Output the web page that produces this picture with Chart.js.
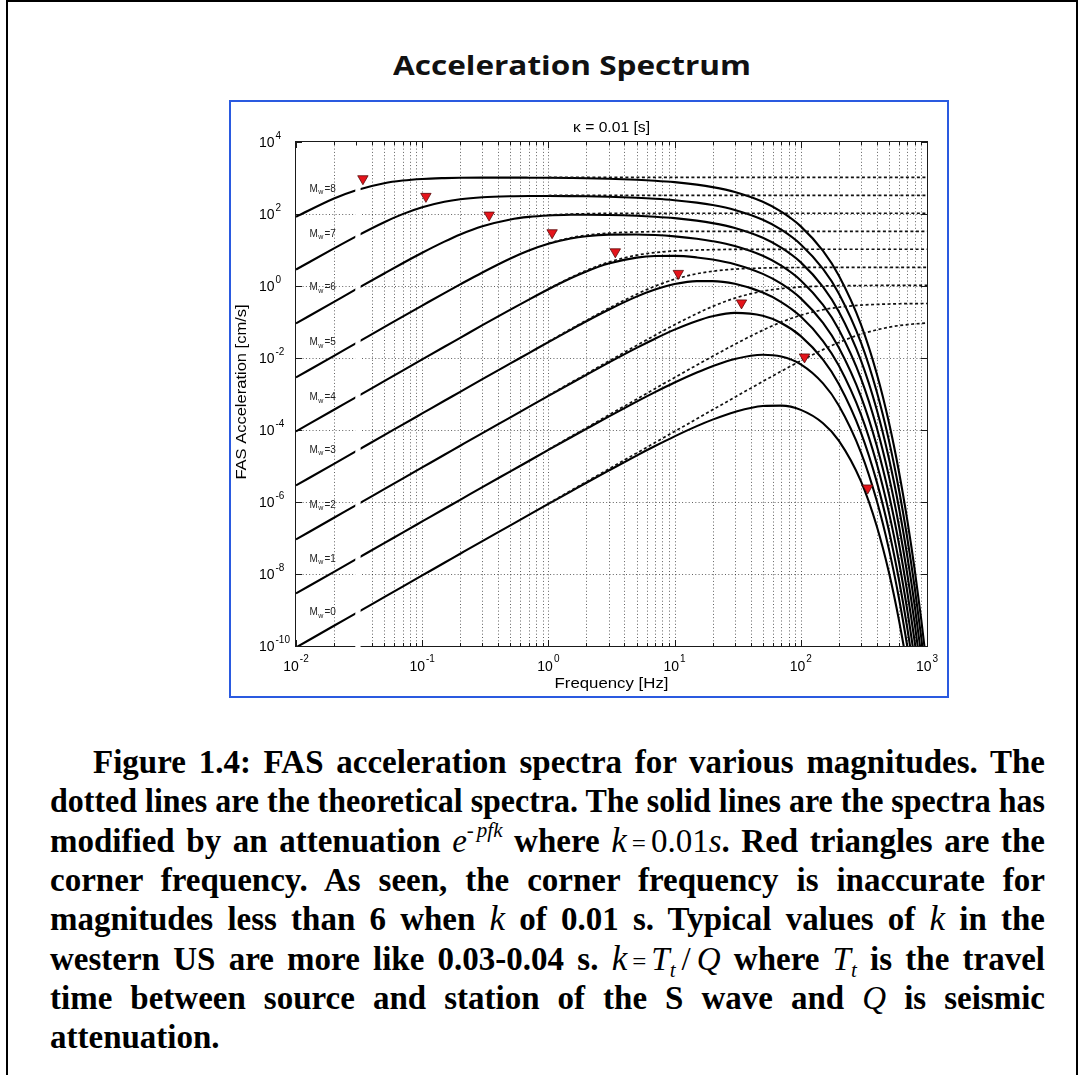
<!DOCTYPE html>
<html>
<head>
<meta charset="utf-8">
<title>Acceleration Spectrum</title>
<script src="https://cdn.jsdelivr.net/npm/chart.js@4.4.1/dist/chart.umd.min.js"></script>
<style>
  html, body { margin: 0; padding: 0; background: #fff; }
  body { width: 1080px; height: 1075px; position: relative; overflow: hidden; }
  #frame { position: absolute; left: 6px; top: 0; width: 1072px; height: 1200px;
           border: 2.5px solid #000; box-sizing: border-box; }
  #panel { position: absolute; left: 229px; top: 100px; width: 720px; height: 598px;
           border: 2px solid #2a5ae0; box-sizing: border-box; }
  #chart { position: absolute; left: 0; top: 0; }
  #title { position: absolute; display: inline-block; white-space: nowrap;
           font-family: "Open Sans", "DejaVu Sans", sans-serif; font-weight: 700;
           font-size: 27px; line-height: 34px; color: #111; }
  .cap { position: absolute; display: inline-block; white-space: nowrap;
         font-family: "Liberation Serif", "Times New Roman", serif; font-weight: 700;
         font-size: 33px; line-height: 40px; color: #000; }
  .mi { font-weight: 400; font-style: italic; }
  .mr { font-weight: 400; font-style: normal; }
  .kk { font-size: 35px; }
  .sup { font-size: 21px; vertical-align: 15px; }
  .sub { font-size: 21px; vertical-align: -7px; }
  .eq { font-size: 25px; margin: 0 5px; }
  .sl { margin: 0 6px; }
</style>
</head>
<body>
<div id="frame"></div>
<div id="panel"></div>
<div id="title">Acceleration Spectrum</div>
<canvas id="chart" width="1080" height="700"></canvas>

<div class="cap" data-left="93" data-base="773" data-mode="justify">Figure 1.4: FAS acceleration spectra for various magnitudes. The</div>
<div class="cap" data-left="50" data-base="812.3" data-mode="justify">dotted lines are the theoretical spectra. The solid lines are the spectra has</div>
<div class="cap" data-left="50" data-base="851.6" data-mode="justify">modified by an attenuation <span class="mi">e</span><span class="mi sup">-<span style="margin-left:3px">pfk</span></span> where <span class="mi kk">k</span><span class="mr eq">=</span><span class="mr">0.01</span><span class="mi">s</span>. Red triangles are the</div>
<div class="cap" data-left="50" data-base="890.9" data-mode="justify">corner frequency. As seen, the corner frequency is inaccurate for</div>
<div class="cap" data-left="50" data-base="930.2" data-mode="justify">magnitudes less than 6 when <span class="mi kk">k</span> of 0.01 s. Typical values of <span class="mi kk">k</span> in the</div>
<div class="cap" data-left="50" data-base="969.5" data-mode="justify">western US are more like 0.03-0.04 s. <span class="mi kk">k</span><span class="mr eq">=</span><span class="mi">T</span><span class="mi sub">t</span><span class="mr sl">/</span><span class="mi">Q</span> where <span class="mi">T</span><span class="mi sub">t</span> is the travel</div>
<div class="cap" data-left="50" data-base="1008.8" data-mode="justify">time between source and station of the S wave and <span class="mi">Q</span> is seismic</div>
<div class="cap" data-left="50" data-base="1048.1" data-mode="none">attenuation.</div>

<script>
// Frequency samples (Hz) for the kappa-attenuated spectra
const freq = [0.01, 0.02, 0.03, 0.05, 0.07, 0.1, 0.15, 0.2, 0.3, 0.5, 0.7, 1, 1.5, 2, 3, 5, 7, 10,
              15, 20, 30, 50, 70, 100, 150, 200, 300, 400, 500, 600, 700, 800, 900, 1000];

// FAS acceleration [cm/s], kappa = 0.01 s, one array per moment magnitude
const accelM0 = [9.1e-11, 3.65e-10, 8.2e-10, 2.28e-9, 4.47e-9, 9.12e-9, 2.05e-8, 3.65e-8, 8.2e-8, 2.24e-7, 4.37e-7, 8.83e-7, 1.95e-6, 3.43e-6, 7.46e-6, 1.95e-5, 3.58e-5, 6.65e-5, 1.28e-4, 1.94e-4, 3.17e-4, 4.63e-4, 4.75e-4, 3.62e-4, 1.54e-4, 5.05e-5, 3.72e-6, 2.12e-7, 1.08e-8, 5.16e-10, 2.39e-11, 1.08e-12, null, null];
const accelM1 = [2.88e-9, 1.15e-8, 2.59e-8, 7.21e-8, 1.41e-7, 2.88e-7, 6.49e-7, 1.15e-6, 2.59e-6, 7.1e-6, 1.38e-5, 2.79e-5, 6.18e-5, 1.08e-4, 2.36e-4, 6.15e-4, 1.13e-3, 2.09e-3, 3.97e-3, 5.94e-3, 9.38e-3, 1.23e-2, 1.1e-2, 6.67e-3, 1.97e-3, 4.81e-4, 2.37e-5, 1.08e-6, 4.76e-8, 2.09e-9, 9.1e-11, 3.95e-12, null, null];
const accelM2 = [9.12e-8, 3.65e-7, 8.2e-7, 2.28e-6, 4.47e-6, 9.12e-6, 2.05e-5, 3.65e-5, 8.2e-5, 2.24e-4, 4.37e-4, 8.83e-4, 1.95e-3, 3.41e-3, 7.41e-3, 1.91e-2, 3.44e-2, 6.14e-2, 0.107, 0.144, 0.179, 0.149, 9.4e-2, 4.06e-2, 8.95e-3, 1.9e-3, 8.34e-5, 3.62e-6, 1.57e-7, 6.79e-9, 2.94e-10, 1.27e-11, null, null];
const accelM3 = [2.88e-6, 1.15e-5, 2.59e-5, 7.21e-5, 1.41e-4, 2.88e-4, 6.49e-4, 1.15e-3, 2.59e-3, 7.08e-3, 1.37e-2, 2.77e-2, 6.07e-2, 0.105, 0.219, 0.506, 0.794, 1.13, 1.37, 1.37, 1.15, 0.658, 0.359, 0.142, 2.96e-2, 6.17e-3, 2.67e-4, 1.15e-5, 4.99e-7, 2.16e-8, 9.31e-10, 4.03e-11, null, null];
const accelM4 = [9.12e-5, 3.65e-4, 8.2e-4, 2.28e-3, 4.47e-3, 9.12e-3, 2.05e-2, 3.63e-2, 8.15e-2, 0.22, 0.419, 0.813, 1.64, 2.54, 4.19, 6.14, 6.81, 6.85, 6.22, 5.43, 4.03, 2.17, 1.16, 0.453, 9.4e-2, 1.95e-2, 8.45e-4, 3.65e-5, 1.58e-6, 6.82e-8, 2.94e-9, 1.27e-10, 5.5e-12, null];
const accelM5 = [2.88e-3, 1.15e-2, 2.59e-2, 7.19e-2, 0.141, 0.286, 0.637, 1.11, 2.38, 5.82, 9.68, 14.9, 20.9, 24.2, 26.7, 27.0, 26.0, 23.9, 20.6, 17.6, 12.9, 6.89, 3.67, 1.43, 0.297, 6.18e-2, 2.67e-3, 1.15e-4, 4.99e-6, 2.16e-7, 9.31e-9, 4.03e-10, 1.74e-11, null];
const accelM6 = [9.12e-2, 0.363, 0.815, 2.23, 4.29, 8.39, 17.1, 27.0, 45.6, 70.6, 83.0, 91.0, 95.1, 95.7, 94.2, 89.1, 83.9, 76.6, 65.3, 55.8, 40.8, 21.8, 11.6, 4.53, 0.94, 0.195, 8.45e-3, 3.65e-4, 1.58e-5, 6.82e-7, 2.94e-8, 1.27e-9, 5.5e-11, null];
const accelM7 = [2.86, 11.1, 24.0, 59.2, 99.1, 154, 219, 257, 291, 311, 316, 317, 314, 310, 301, 283, 266, 242, 207, 177, 129, 68.9, 36.7, 14.3, 2.97, 0.618, 2.67e-2, 1.15e-3, 4.99e-5, 2.16e-6, 9.31e-8, 4.03e-9, 1.74e-10, 7.52e-12];
const accelM8 = [83.9, 270, 460, 718, 849, 940, 995, 1019, 1026, 1026, 1021, 1014, 998, 984, 953, 895, 841, 766, 653, 558, 408, 218, 116, 45.3, 9.4, 1.95, 8.45e-2, 3.65e-3, 1.58e-4, 6.82e-6, 2.94e-7, 1.27e-8, 5.5e-10, 2.38e-11];

// Theoretical (unattenuated) spectra, dotted, where they separate from the solid ones
const theoryFreq = [1, 1.5, 2, 3, 5, 7, 10, 15, 20, 30, 50, 70, 100, 150, 200, 300, 500, 700, 1000];
const theoryM0 = [9.12e-7, 2.05e-6, 3.65e-6, 8.2e-6, 2.28e-5, 4.47e-5, 9.12e-5, 2.05e-4, 3.63e-4, 8.15e-4, 2.23e-3, 4.29e-3, 8.39e-3, 1.71e-2, 2.7e-2, 4.6e-2, 7.18e-2, 8.47e-2, 9.4e-2];
const theoryM1 = [2.88e-5, 6.49e-5, 1.15e-4, 2.59e-4, 7.19e-4, 1.41e-3, 2.86e-3, 6.37e-3, 1.11e-2, 2.4e-2, 5.92e-2, 9.91e-2, 0.154, 0.219, 0.257, 0.294, 0.316, 0.324, 0.327];
const theoryM2 = [9.12e-4, 2.05e-3, 3.63e-3, 8.15e-3, 2.23e-2, 4.29e-2, 8.39e-2, 0.171, 0.27, 0.46, 0.718, 0.847, 0.94, 0.995, 1.02, 1.03, 1.04, 1.04, 1.05];
const theoryM3 = [2.86e-2, 6.37e-2, 0.111, 0.24, 0.592, 0.991, 1.54, 2.19, 2.57, 2.94, 3.16, 3.24, 3.27, 3.3, 3.3, 3.3, 3.31, 3.31, 3.31];
const theoryM4 = [0.839, 1.71, 2.7, 4.6, 7.18, 8.49, 9.4, 9.95, 10.2, 10.4, 10.4, 10.4, 10.5, 10.5, 10.5, 10.5, 10.5, 10.5, 10.5];
const theoryM5 = [15.4, 21.9, 25.7, 29.4, 31.6, 32.4, 32.7, 33.0, 33.1, 33.1, 33.1, 33.1, 33.1, 33.1, 33.1, 33.1, 33.1, 33.1, 33.1];
const theoryM6 = [94.0, 99.5, 102, 104, 104, 104, 105, 105, 105, 105, 105, 105, 105, 105, 105, 105, 105, 105, 105];
const theoryM7 = [327, 330, 330, 331, 331, 331, 331, 331, 331, 331, 331, 331, 331, 331, 331, 331, 331, 331, 331];
const theoryM8 = [1047, 1047, 1047, 1047, 1047, 1047, 1047, 1047, 1047, 1047, 1047, 1047, 1047, 1047, 1047, 1047, 1047, 1047, 1047];

// Corner frequencies (red triangles), M = 0 ... 8
const magnitudes = [0, 1, 2, 3, 4, 5, 6, 7, 8];
const cornerFreq = [339, 107, 33.9, 10.7, 3.39, 1.07, 0.339, 0.107, 0.0339];
const cornerLevel = [2.45e-6, 1.07e-2, 0.339, 2.24, 8.91, 30.2, 93.3, 309, 955];

// Anchors of the "Mw=n" curve labels
const labelFreq = 0.0128;
const labelLevel = [8.97e-10, 2.73e-8, 8.79e-7, 2.91e-5, 8.41e-4, 2.84e-2, 0.957, 29.1, 518];

// Axis ticks (powers of ten) and minor grid multiples
const xTickExponents = [-2, -1, 0, 1, 2, 3];
const yTickExponents = [-10, -8, -6, -4, -2, 0, 2, 4];
const minorMultiples = [2, 3, 4, 5, 6, 7, 8, 9];

// Frequency band where the plotted curves are interrupted
const breakBand = [0.0295, 0.0325];

const SANS = '"Liberation Sans", Arial, Helvetica, sans-serif';

const solidSeries = [accelM0, accelM1, accelM2, accelM3, accelM4, accelM5, accelM6, accelM7, accelM8];
const theorySeries = [theoryM0, theoryM1, theoryM2, theoryM3, theoryM4, theoryM5, theoryM6, theoryM7, theoryM8];

function toPoints(xs, ys) {
  const pts = [];
  xs.forEach((f, i) => { if (ys[i] !== null) pts.push({ x: f, y: ys[i] }); });
  return pts;
}

const datasets = [];
solidSeries.forEach((vals, i) => {
  datasets.push({
    label: 'Mw=' + magnitudes[i],
    data: toPoints(freq, vals),
    borderColor: '#000', borderWidth: 2.1, pointRadius: 0, fill: false,
    cubicInterpolationMode: 'monotone', order: 2, clip: 0
  });
});
theorySeries.forEach((vals, i) => {
  datasets.push({
    label: 'Mw=' + magnitudes[i] + ' theoretical',
    data: toPoints(theoryFreq, vals),
    borderColor: '#111', borderWidth: 1.7, borderDash: [3, 2.5], pointRadius: 0, fill: false,
    cubicInterpolationMode: 'monotone', order: 1, clip: 0
  });
});
datasets.push({
  label: 'corner frequency',
  isCorner: true,
  data: toPoints(cornerFreq, cornerLevel),
  showLine: false,
  pointStyle: 'triangle', pointRotation: 180, pointRadius: 6, pointHoverRadius: 6,
  pointBackgroundColor: '#e5141b', pointBorderColor: '#5a0a0a', pointBorderWidth: 0.8,
  order: 0, clip: false
});

function expText(e) { return e < 0 ? '-' + Math.abs(e) : String(e); }

function stretchedText(ctx, text, x, y, align, sx, angle) {
  ctx.save();
  ctx.translate(x, y);
  if (angle) ctx.rotate(angle);
  ctx.scale(sx, 1);
  ctx.textAlign = align;
  ctx.fillText(text, 0, 0);
  ctx.restore();
}

const decor = {
  id: 'spectrumDecor',
  beforeDatasetsDraw(chart) {
    const { ctx, chartArea: a, scales: { x, y } } = chart;
    ctx.save();
    // dotted grid
    ctx.strokeStyle = 'rgba(0,0,0,0.62)';
    ctx.lineWidth = 1;
    ctx.setLineDash([1, 2.3]);
    xTickExponents.forEach(e => {
      [1].concat(minorMultiples).forEach(m => {
        const v = m * Math.pow(10, e);
        if (v <= x.min * 1.0001 || v >= x.max * 0.9999) return;
        const px = Math.round(x.getPixelForValue(v)) + 0.5;
        ctx.beginPath(); ctx.moveTo(px, a.top); ctx.lineTo(px, a.bottom); ctx.stroke();
      });
    });
    yTickExponents.forEach(e => {
      const v = Math.pow(10, e);
      if (v <= y.min * 1.0001 || v >= y.max * 0.9999) return;
      const py = Math.round(y.getPixelForValue(v)) + 0.5;
      ctx.beginPath(); ctx.moveTo(a.left, py); ctx.lineTo(a.right, py); ctx.stroke();
    });
    ctx.setLineDash([]);
    // axes box
    ctx.strokeStyle = '#1a1a1a';
    ctx.lineWidth = 1;
    ctx.strokeRect(a.left - 0.5, a.top - 0.5, a.right - a.left + 1, a.bottom - a.top + 1);
    // inward tick marks
    ctx.beginPath();
    xTickExponents.forEach(e => {
      [1].concat(minorMultiples).forEach(m => {
        const v = m * Math.pow(10, e);
        if (v < x.min * 0.9999 || v > x.max * 1.0001) return;
        const px = Math.round(x.getPixelForValue(v)) + 0.5;
        const len = m === 1 ? 6 : 3;
        ctx.moveTo(px, a.bottom); ctx.lineTo(px, a.bottom - len);
        ctx.moveTo(px, a.top); ctx.lineTo(px, a.top + len);
      });
    });
    yTickExponents.forEach(e => {
      const py = Math.round(y.getPixelForValue(Math.pow(10, e))) + 0.5;
      ctx.moveTo(a.left, py); ctx.lineTo(a.left + 6, py);
      ctx.moveTo(a.right, py); ctx.lineTo(a.right - 6, py);
    });
    ctx.stroke();
    ctx.restore();
  },
  beforeDatasetDraw(chart, args) {
    const ds = chart.data.datasets[args.index];
    if (!ds.isCorner) return;
    const { ctx, chartArea: a, scales: { x } } = chart;
    const x0 = x.getPixelForValue(breakBand[0]);
    const x1 = x.getPixelForValue(breakBand[1]);
    ctx.save();
    ctx.fillStyle = '#fff';
    ctx.fillRect(x0, a.top + 4, x1 - x0, a.bottom - a.top - 2);
    ctx.restore();
  },
  afterDraw(chart) {
    const { ctx, chartArea: a, scales: { x, y } } = chart;
    ctx.save();
    ctx.fillStyle = '#000';
    ctx.textBaseline = 'alphabetic';
    // y tick labels
    yTickExponents.forEach(e => {
      const py = y.getPixelForValue(Math.pow(10, e));
      ctx.font = '14px ' + SANS; ctx.textAlign = 'right';
      ctx.fillText('10', a.left - 21.5, py + 5);
      ctx.font = '10px ' + SANS; ctx.textAlign = 'left';
      ctx.fillText(expText(e), a.left - 20.5, py - 3.5);
    });
    // x tick labels
    xTickExponents.forEach(e => {
      const px = x.getPixelForValue(Math.pow(10, e));
      ctx.font = '14px ' + SANS; const w1 = ctx.measureText('10').width;
      ctx.font = '10px ' + SANS; const w2 = ctx.measureText(expText(e)).width;
      const x0 = px - (w1 + 1 + w2) / 2;
      ctx.textAlign = 'left';
      ctx.font = '14px ' + SANS; ctx.fillText('10', x0, a.bottom + 25);
      ctx.font = '10px ' + SANS; ctx.fillText(expText(e), x0 + w1 + 1, a.bottom + 15.5);
    });
    // axis titles and kappa note
    ctx.font = '15px ' + SANS;
    stretchedText(ctx, 'Frequency [Hz]', (a.left + a.right) / 2, a.bottom + 42.3, 'center', 1.12);
    stretchedText(ctx, 'FAS Acceleration [cm/s]', a.left - 50, (a.top + a.bottom) / 2 - 2, 'center', 1.1, -Math.PI / 2);
    ctx.font = '14px ' + SANS;
    stretchedText(ctx, '\u03BA = 0.01 [s]', (a.left + a.right) / 2, a.top - 10.3, 'center', 1.12);
    // magnitude labels
    ctx.fillStyle = '#222';
    ctx.textAlign = 'left';
    magnitudes.forEach((m, i) => {
      const px = x.getPixelForValue(labelFreq);
      const py = y.getPixelForValue(labelLevel[i]);
      ctx.font = '10px ' + SANS;
      ctx.fillText('M', px, py + 3.5);
      const wM = ctx.measureText('M').width;
      ctx.font = '7px ' + SANS;
      ctx.fillText('w', px + wM + 0.5, py + 6);
      const ww = ctx.measureText('w').width;
      ctx.font = '10px ' + SANS;
      ctx.fillText('=' + m, px + wM + ww + 1.5, py + 3.5);
    });
    ctx.restore();
  }
};

new Chart(document.getElementById('chart'), {
  type: 'line',
  data: { datasets },
  options: {
    responsive: false,
    animation: false,
    devicePixelRatio: 1,
    events: [],
    layout: { padding: { left: 296, top: 142, right: 1080 - 927, bottom: 700 - 646 } },
    elements: { line: { capBezierPoints: false, tension: 0 } },
    plugins: { legend: { display: false }, tooltip: { enabled: false }, title: { display: false } },
    scales: {
      x: { type: 'logarithmic', min: 0.01, max: 1000, display: false },
      y: { type: 'logarithmic', min: 1e-10, max: 1e4, display: false }
    }
  },
  plugins: [decor]
});

// Title and caption: place each line on its baseline, justified to the column
function placeLine(el, left, width, baseline, mode) {
  el.style.left = left + 'px';
  el.style.top = '0px';
  el.style.wordSpacing = '';
  el.style.transform = '';
  let marker = el.querySelector('.bl-marker');
  if (!marker) {
    marker = document.createElement('span');
    marker.className = 'bl-marker';
    marker.style.cssText = 'display:inline-block;width:0;height:0;vertical-align:baseline;';
    el.appendChild(marker);
  }
  const natural = el.getBoundingClientRect().width;
  if (mode === 'justify' || mode === 'fit') {
    const gaps = mode === 'justify' ? (el.textContent.match(/ /g) || []).length : 0;
    if (natural < width && gaps > 0) {
      el.style.wordSpacing = ((width - natural) / gaps) + 'px';
    } else if (Math.abs(natural - width) > 0.5) {
      el.style.transformOrigin = '0 0';
      el.style.transform = 'scaleX(' + (width / natural) + ')';
    }
  }
  const off = marker.getBoundingClientRect().top - el.getBoundingClientRect().top;
  el.style.top = (baseline - off) + 'px';
}

function layoutText() {
  placeLine(document.getElementById('title'), 393, 358, 75, 'fit');
  document.querySelectorAll('.cap').forEach(el => {
    const left = parseFloat(el.dataset.left);
    placeLine(el, left, 1045 - left, parseFloat(el.dataset.base), el.dataset.mode);
  });
}
layoutText();
if (document.fonts && document.fonts.ready) document.fonts.ready.then(layoutText);
</script>
</body>
</html>
